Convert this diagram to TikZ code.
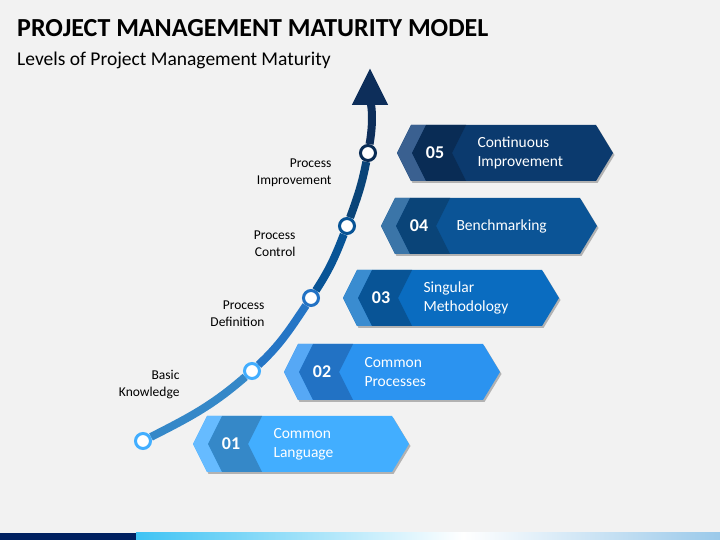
\documentclass[tikz,border=0pt]{standalone}
\usepackage{fontspec}
\setmainfont{Carlito}
\usetikzlibrary{arrows.meta, positioning, calc}
\definecolor{latarabu}{RGB}{242,242,242}
\definecolor{navybar}{RGB}{0,32,96}
% level colours: light tip, dark band, main face
\definecolor{tipa}{RGB}{102,187,255}
\definecolor{banda}{RGB}{53,136,200}
\definecolor{maina}{RGB}{66,174,255}
\definecolor{tipb}{RGB}{86,168,245}
\definecolor{bandb}{RGB}{34,114,196}
\definecolor{mainb}{RGB}{43,147,240}
\definecolor{tipc}{RGB}{58,140,208}
\definecolor{bandc}{RGB}{8,84,150}
\definecolor{mainc}{RGB}{10,108,192}
\definecolor{tipd}{RGB}{59,117,168}
\definecolor{bandd}{RGB}{10,68,120}
\definecolor{maind}{RGB}{11,84,150}
\definecolor{tipe}{RGB}{58,96,144}
\definecolor{bande}{RGB}{9,44,85}
\definecolor{maine}{RGB}{11,58,110}
\definecolor{panahtua}{RGB}{13,46,90}
\definecolor{barbiru}{RGB}{0,112,192}
\definecolor{barcyan}{RGB}{0,176,240}
\definecolor{barakhir}{RGB}{40,140,210}
\pgfdeclarehorizontalshading{barshade}{100bp}{color(0bp)=(barbiru); color(16bp)=(barcyan); color(53bp)=(white); color(100bp)=(barakhir)}

\begin{document}
\begin{tikzpicture}[x=1pt, y=1pt,
        dot/.style={circle, draw, fill=white, line width=3pt, minimum size=15pt, inner sep=0pt},
        num/.style={text=white, font=\bfseries\fontsize{18}{18}\selectfont},
        lbl/.style={text=white, anchor=west, align=left, font=\fontsize{15.5}{19}\selectfont},
        side/.style={anchor=east, align=right, font=\fontsize{13.5}{17}\selectfont},
        seg/.style={line width=8pt}
    ]
        \fill[latarabu] (0,0) rectangle (720,540);
        \useasboundingbox (0,0) rectangle (720,540);
        % bottom bar
        \fill[navybar] (0,0) rectangle (136,7);
        \shade[shading=barshade] (136,0) rectangle (720,7);

        \node[anchor=base west, inner sep=0pt, font=\bfseries\fontsize{26}{26}\selectfont] (title) at (17,503.5)
            {PROJECT MANAGEMENT MATURITY MODEL};
        \node[anchor=base west, inner sep=0pt, font=\fontsize{19.5}{20}\selectfont] (subtitle) at (17,474)
            {Levels of Project Management Maturity};

        % level boxes
        \foreach \n/\c/\x/\y/\dx/\txt in {1/a/193/96/77/{Common\\Language}, 2/b/284/168/77/{Common\\Processes},
                3/c/343/242/77/{Singular\\Methodology}, 4/d/381/314/72/{Benchmarking},
                5/e/397/387/77/{Continuous\\Improvement}} {
            \begin{scope}[shift={(\x,\y)}]
                \fill[black!30] (1.5,-2) -- (15.5,-30) -- (200.5,-30) -- (217.5,-2) -- (200.5,26) -- (15.5,26) -- cycle;
                \fill[main\c] (0,0) -- (14,28) -- (199,28) -- (216,0) -- (199,-28) -- (14,-28) -- cycle;
                \fill[tip\c] (0,0) -- (14,28) -- (29,28) -- (15,0) -- (29,-28) -- (14,-28) -- cycle;
                \fill[band\c] (15,0) -- (29,28) -- (69,28) -- (55,0) -- (69,-28) -- (29,-28) -- cycle;
                \node[num] (n\n) at (38,0) {0\n};
                \node[lbl] (t\n) at (\dx,0) {\txt};
            \end{scope}
        }

        % maturity curve
        \node[dot, draw=maina] (c1) at (143,99) {};
        \node[dot, draw=maina] (c2) at (252,169) {};
        \node[dot, draw=bandb] (c3) at (311,242) {};
        \node[dot, draw=bandc] (c4) at (347,314) {};
        \node[dot, draw=bande] (c5) at (368,387) {};
        \coordinate (top) at (370,472);
        \draw[seg, banda] (c1) to[out=27, in=221] (c2);
        \draw[seg, bandb!85!banda] (c2) to[out=43, in=236] (c3);
        \draw[seg, bandc] (c3) to[out=57, in=249] (c4);
        \draw[seg, bandd] (c4) to[out=70, in=259] (c5);
        \draw[seg, panahtua, -{Triangle[width=34pt, length=37pt]}] (c5) to[out=80, in=270] (top);

        \node[side] (s1) at (183,155.5) {Basic\\Knowledge};
        \node[side] (s2) at (268,226.5) {Process\\Definition};
        \node[side] (s3) at (299,296.5) {Process\\Control};
        \node[side] (s4) at (335,367.5) {Process\\Improvement};
    \end{tikzpicture}
\end{document}
